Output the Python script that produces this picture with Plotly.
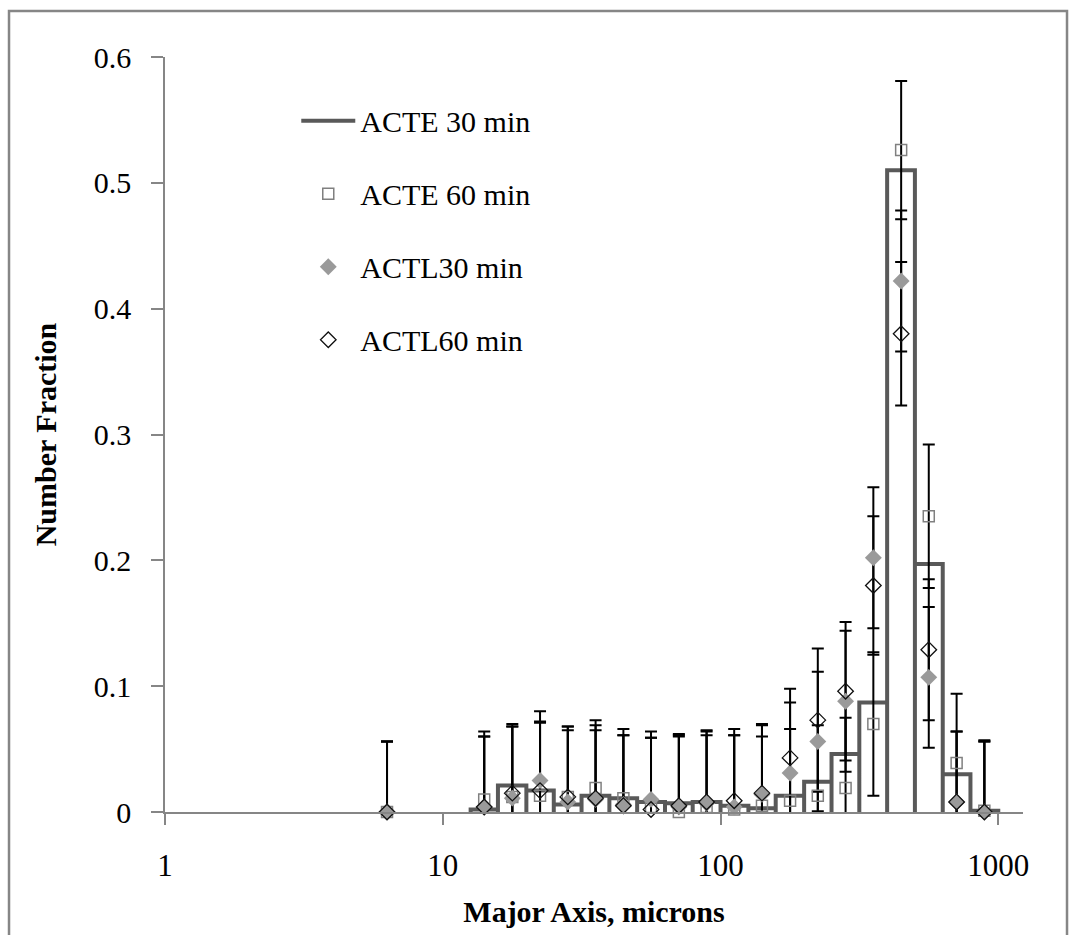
import plotly.graph_objects as go

# Bin-centre positions (microns) of the measured points
major_axis = [6.3, 14.1, 17.8, 22.4, 28.2, 35.5, 44.7, 56.2, 70.8, 89.1,
              112, 141, 178, 224, 282, 355, 447, 562, 708, 891]

# Histogram bin edges and heights for ACTE 30 min
bin_edges = [12.6, 15.8, 20.0, 25.1, 31.6, 39.8, 50.1, 63.1, 79.4, 100,
             126, 158, 200, 251, 316, 398, 501, 631, 794, 1000]
acte30 = [0.002, 0.021, 0.017, 0.006, 0.013, 0.011, 0.008, 0.007, 0.008, 0.005,
          0.003, 0.013, 0.024, 0.046, 0.087, 0.510, 0.197, 0.030, 0.001]

acte60 = [0.000, 0.010, 0.012, 0.013, 0.012, 0.019, 0.011, 0.004, 0.000, 0.004,
          0.002, 0.005, 0.009, 0.013, 0.019, 0.070, 0.526, 0.235, 0.039, 0.001]
actl30 = [0.000, 0.004, 0.011, 0.025, 0.008, 0.010, 0.006, 0.010, 0.004, 0.007,
          0.004, 0.014, 0.031, 0.056, 0.088, 0.202, 0.422, 0.107, 0.008, 0.000]
actl60 = [0.000, 0.004, 0.015, 0.017, 0.012, 0.011, 0.005, 0.002, 0.005, 0.008,
          0.009, 0.015, 0.043, 0.073, 0.096, 0.180, 0.380, 0.129, 0.008, 0.000]

# Standard deviations (symmetric error bars)
acte60_err = [0.056, 0.054, 0.056, 0.058, 0.056, 0.054, 0.055, 0.055, 0.060, 0.057,
              0.059, 0.055, 0.057, 0.056, 0.056, 0.057, 0.055, 0.057, 0.055, 0.056]
actl30_err = [0.056, 0.056, 0.057, 0.055, 0.057, 0.055, 0.055, 0.054, 0.057, 0.057,
              0.057, 0.055, 0.056, 0.0555, 0.056, 0.056, 0.056, 0.056, 0.056, 0.056]
actl60_err = [0.056, 0.056, 0.055, 0.055, 0.056, 0.058, 0.056, 0.057, 0.057, 0.057,
              0.057, 0.055, 0.055, 0.057, 0.055, 0.055, 0.057, 0.056, 0.056, 0.056]

x_ticks = [1, 10, 100, 1000]
x_ticktext = ["1", "10", "100", "1000"]
y_ticks = [0, 0.1, 0.2, 0.3, 0.4, 0.5, 0.6]
y_ticktext = ["0", "0.1", "0.2", "0.3", "0.4", "0.5", "0.6"]

SERIF = "Liberation Serif"
AXIS_GRAY = "#868686"

# Outline of the ACTE 30 min histogram: each bin rises from zero and returns to it
step_x, step_y = [], []
for lo, hi, h in zip(bin_edges[:-1], bin_edges[1:], acte30):
    step_x += [lo, lo, hi, hi]
    step_y += [0, h, h, 0]

fig = go.Figure()

fig.add_trace(go.Scatter(
    x=step_x, y=step_y, mode="lines", name="ACTE 30 min",
    line=dict(color="#595959", width=4), legendgroup="g1",
))

series = [
    ("ACTE 60 min", acte60, acte60_err,
     dict(symbol="square-open", size=11, color="#808080", line=dict(width=1.5, color="#808080"))),
    ("ACTL30 min", actl30, actl30_err,
     dict(symbol="diamond", size=13, color="#9a9a9a", line=dict(width=0))),
    ("ACTL60 min", actl60, actl60_err,
     dict(symbol="diamond-open", size=12, color="#111111", line=dict(width=1.3, color="#111111"))),
]

# Error bars first (clipped to the plot area), markers afterwards on top
for name, vals, err, mk in series:
    fig.add_trace(go.Scatter(
        x=major_axis, y=vals, mode="markers", showlegend=False, hoverinfo="skip",
        marker=dict(size=1, opacity=0),
        error_y=dict(type="data", array=err, symmetric=True,
                     color="black", thickness=2, width=6),
        cliponaxis=True,
    ))

for i, (name, vals, err, mk) in enumerate(series):
    fig.add_trace(go.Scatter(
        x=major_axis, y=vals, mode="markers", name=name,
        marker=mk, cliponaxis=False, legendgroup=f"g{i + 2}",
    ))

fig.update_layout(
    width=1075, height=935,
    margin=dict(l=165, r=52, t=57, b=123),
    paper_bgcolor="white", plot_bgcolor="white",
    font=dict(family=SERIF, color="black", size=30),
    showlegend=True,
    legend=dict(
        x=0.153, y=0.95, xanchor="left", yanchor="top",
        bgcolor="rgba(0,0,0,0)", font=dict(family=SERIF, size=30, color="black"),
        tracegroupgap=31, itemwidth=54, itemsizing="trace",
    ),
    xaxis=dict(
        type="log", range=[0, 3.089],
        tickvals=x_ticks, ticktext=x_ticktext,
        ticks="outside", ticklen=11, tickwidth=1.5, tickcolor=AXIS_GRAY,
        showline=True, linecolor=AXIS_GRAY, linewidth=1.5,
        showgrid=False, zeroline=False,
        tickfont=dict(family=SERIF, size=31, color="black"),
        ticklabelstandoff=14,
        title=dict(text="Major Axis, microns",
                   font=dict(family=SERIF, size=30, color="black", weight="bold"),
                   standoff=19),
    ),
    yaxis=dict(
        range=[0, 0.6],
        tickvals=y_ticks, ticktext=y_ticktext,
        ticks="outside", ticklen=12, tickwidth=1.5, tickcolor=AXIS_GRAY,
        showline=True, linecolor=AXIS_GRAY, linewidth=1.5,
        showgrid=False, zeroline=False,
        tickfont=dict(family=SERIF, size=30, color="black"),
        ticklabelstandoff=14,
        title=dict(text="Number Fraction",
                   font=dict(family=SERIF, size=30, color="black", weight="bold"),
                   standoff=28),
    ),
    shapes=[dict(
        type="rect", xref="paper", yref="paper",
        x0=-0.1818, x1=1.0513, y0=-0.176, y1=1.0609,
        line=dict(color=AXIS_GRAY, width=2.5), fillcolor="rgba(0,0,0,0)",
        layer="below",
    )],
)

fig.write_html("out.html")
